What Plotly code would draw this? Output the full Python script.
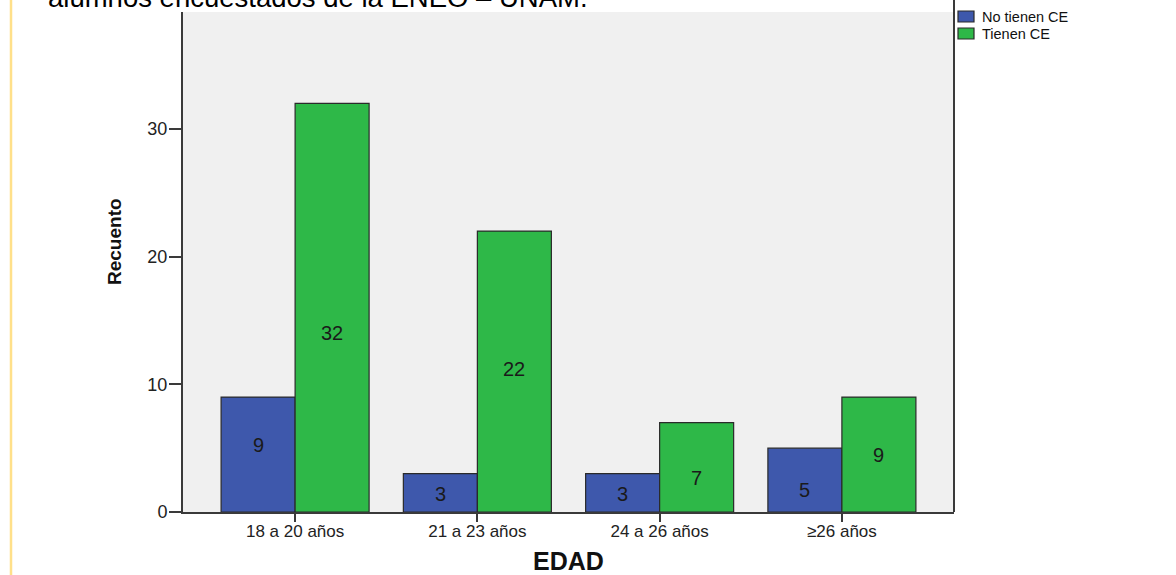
import plotly.graph_objects as go

# Age groups and respondent counts
edades = ["18 a 20 años", "21 a 23 años", "24 a 26 años", "≥26 años"]
series_names = ["No tienen CE", "Tienen CE"]
no_tienen_ce = [9, 3, 3, 5]
tienen_ce = [32, 22, 7, 9]

# Heights (in count units) at which each bar's value label sits
label_y_no = [5.25, 1.4, 1.4, 1.72]
label_y_si = [14.0, 11.2, 2.66, 4.46]

W, H = 1176, 575
ML, MR, MT, MB = 183, 222, 12, 63
PW, PH = W - ML - MR, H - MT - MB


def px_x(px):
    return (px - ML) / PW


def px_y(py):
    return (H - MB - py) / PH


FONT = "Liberation Sans, Arial, sans-serif"
BLUE = "#3E58AC"
GREEN = "#2EB848"
EDGE = "#2a2a2a"
AXIS = "#3a3a3a"

fig = go.Figure()
fig.add_trace(go.Bar(
    x=edades, y=no_tienen_ce, name=series_names[0],
    marker=dict(color=BLUE, line=dict(color=EDGE, width=1.2)),
))
fig.add_trace(go.Bar(
    x=edades, y=tienen_ce, name=series_names[1],
    marker=dict(color=GREEN, line=dict(color=EDGE, width=1.2)),
))

annotations = []
for cat, v, ly in zip(edades, no_tienen_ce, label_y_no):
    annotations.append(dict(x=cat, y=ly, xref="x", yref="y", text=str(v),
                            showarrow=False, xshift=-37, yanchor="middle",
                            font=dict(family=FONT, size=20, color="#1a1a1a")))
for cat, v, ly in zip(edades, tienen_ce, label_y_si):
    annotations.append(dict(x=cat, y=ly, xref="x", yref="y", text=str(v),
                            showarrow=False, xshift=37, yanchor="middle",
                            font=dict(family=FONT, size=20, color="#1a1a1a")))

# Y axis title
annotations.append(dict(x=px_x(115), y=px_y(242), xref="paper", yref="paper",
                        text="<b>Recuento</b>", textangle=-90, showarrow=False,
                        xanchor="center", yanchor="middle",
                        font=dict(family=FONT, size=19, color="#111")))
# X axis title
annotations.append(dict(x=px_x(568), y=px_y(561), xref="paper", yref="paper",
                        text="<b>EDAD</b>", showarrow=False,
                        xanchor="center", yanchor="middle",
                        font=dict(family=FONT, size=25, color="#111")))
# Caption line above the chart, partly cut by the top edge
annotations.append(dict(x=px_x(46), y=px_y(15), xref="paper", yref="paper",
                        text="alumnos encuestados de la ENEO – UNAM.",
                        showarrow=False, xanchor="left", yanchor="bottom",
                        font=dict(family=FONT, size=27.5, color="#000")))

shapes = [
    # page border on the left
    dict(type="line", xref="paper", yref="paper",
         x0=px_x(11), x1=px_x(11), y0=px_y(0), y1=px_y(H),
         line=dict(color="#FFE08A", width=2.5)),
    # right edge of the plot frame
    dict(type="line", xref="paper", yref="paper",
         x0=1, x1=1, y0=0, y1=px_y(0),
         line=dict(color=AXIS, width=2)),
]

# Legend: swatches and labels to the right of the frame
legend_colors = [BLUE, GREEN]
row_centers = [16.5, 33.5]
for name, col, cy in zip(series_names, legend_colors, row_centers):
    shapes.append(dict(type="rect", xref="paper", yref="paper",
                       x0=px_x(958), x1=px_x(974),
                       y0=px_y(cy - 5.5), y1=px_y(cy + 5.5),
                       fillcolor=col, line=dict(color=EDGE, width=1.2)))
    annotations.append(dict(x=px_x(980), y=px_y(cy), xref="paper", yref="paper",
                            text=name, showarrow=False,
                            xanchor="left", yanchor="middle",
                            font=dict(family=FONT, size=14.5, color="#111")))

fig.update_layout(
    width=W, height=H,
    margin=dict(l=ML, r=MR, t=MT, b=MB),
    paper_bgcolor="white",
    plot_bgcolor="#F0F0F0",
    barmode="group",
    bargap=0.188,
    bargroupgap=0,
    font=dict(family=FONT, color="#222"),
    annotations=annotations,
    shapes=shapes,
    showlegend=False,
    xaxis=dict(
        type="category", range=[-0.615, 3.615],
        showline=True, linecolor=AXIS, linewidth=1.5,
        ticks="outside", ticklen=8, tickcolor=AXIS, tickwidth=1.5,
        ticklabelstandoff=-5,
        tickfont=dict(family=FONT, size=17, color="#222"),
        showgrid=False, zeroline=False,
    ),
    yaxis=dict(
        range=[0, 39.15],
        tickvals=[0, 10, 20, 30],
        showline=True, linecolor=AXIS, linewidth=2,
        ticks="outside", ticklen=12, tickcolor=AXIS, tickwidth=1.5,
        ticklabelstandoff=-2,
        tickfont=dict(family=FONT, size=18, color="#222"),
        showgrid=False, zeroline=False,
    ),
)

fig.write_html("out.html")
